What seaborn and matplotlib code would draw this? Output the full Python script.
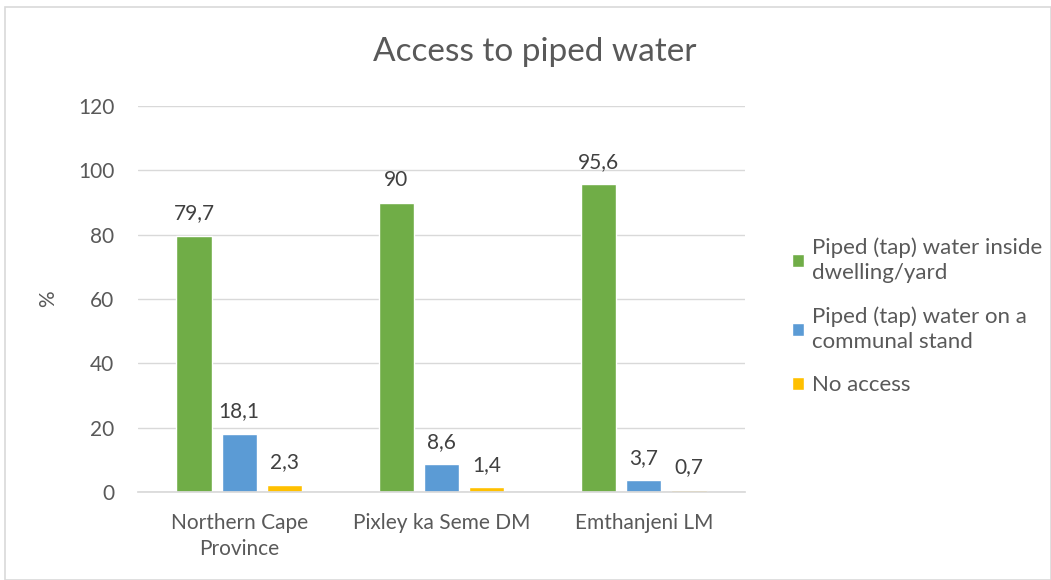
import matplotlib
matplotlib.use("Agg")
import matplotlib.pyplot as plt
import seaborn as sns
import pandas as pd
from matplotlib.patches import Rectangle

categories = ["Northern Cape\nProvince", "Pixley ka Seme DM", "Emthanjeni LM"]
series_names = ["Piped (tap) water inside\ndwelling/yard",
                "Piped (tap) water on a\ncommunal stand",
                "No access"]
inside_vals = [79.7, 90, 95.6]
communal_vals = [18.1, 8.6, 3.7]
noaccess_vals = [2.3, 1.4, 0.7]
yticks = [0, 20, 40, 60, 80, 100, 120]
colors = ["#70AD47", "#5B9BD5", "#FFC000"]

rows = []
for s, vals in zip(series_names, [inside_vals, communal_vals, noaccess_vals]):
    for c, v in zip(categories, vals):
        rows.append({"cat": c, "series": s, "val": v})
df = pd.DataFrame(rows)

sns.set_theme(style="white")
plt.rcParams['font.family'] = ['Lato', 'DejaVu Sans']
txt = "#595959"

fig = plt.figure(figsize=(10.51, 5.8), dpi=100)
ax = fig.add_axes([138/1051, 88/580, 607/1051, 386/580])

sns.barplot(data=df, x="cat", y="val", hue="series", palette=colors,
            width=0.67, gap=0.22, ax=ax, legend=True, saturation=1)

for cont in ax.containers:
    labels = [("%g" % v).replace(".", ",") for v in cont.datavalues]
    ax.bar_label(cont, labels=labels, padding=9, fontsize=15, color="#404040")

ax.set_ylim(0, 120)
ax.set_xlim(-0.5, 2.5)
ax.set_yticks(yticks)
ax.yaxis.grid(True, color="#d9d9d9", linewidth=1)
ax.set_axisbelow(True)
for sp in ["top", "right", "left"]:
    ax.spines[sp].set_visible(False)
ax.spines["bottom"].set_color("#d9d9d9")
ax.tick_params(axis="both", length=0, labelsize=15, labelcolor=txt)
ax.tick_params(axis="y", pad=17)
ax.tick_params(axis="x", pad=15)
for t in ax.get_xticklabels():
    t.set_linespacing(1.4)
ax.set_xlabel("")
ax.set_ylabel("%", fontsize=15, color=txt, labelpad=14)
fig.text(0.509, 1 - 52/580, "Access to piped water", fontsize=24, color=txt,
         ha="center", va="center")

handles, labs = ax.get_legend_handles_labels()
leg = ax.legend(handles, labs, loc="center left", bbox_to_anchor=((772 - 138)/607, 0.455),
                frameon=False, fontsize=16, labelcolor=txt, handlelength=0.55,
                handleheight=0.55, labelspacing=1.05, handletextpad=0.35)
for t in leg.get_texts():
    t.set_linespacing(1.3)

fig.patches.append(Rectangle((5/1051, 0), 1 - 5/1051, 1 - 7/580, transform=fig.transFigure,
                             fill=False, edgecolor="#d9d9d9", linewidth=1.2))

fig.savefig("out.png", dpi=100, facecolor="white")
